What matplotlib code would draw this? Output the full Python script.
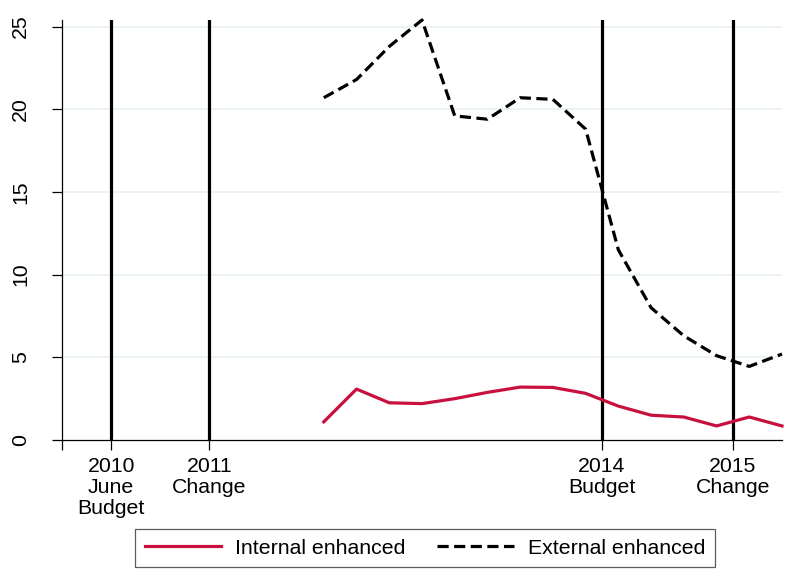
import matplotlib
matplotlib.use("Agg")
import matplotlib.pyplot as plt

plt.rcParams['font.family'] = ['Liberation Sans', 'DejaVu Sans']

# Quarterly observations (2011Q4 .. 2015Q2)
quarters = ["2011Q4", "2012Q1", "2012Q2", "2012Q3", "2012Q4",
            "2013Q1", "2013Q2", "2013Q3", "2013Q4",
            "2014Q1", "2014Q2", "2014Q3", "2014Q4",
            "2015Q1", "2015Q2"]
internal_enhanced = [1.1, 3.08, 2.25, 2.2, 2.5, 2.88, 3.2, 3.18, 2.82,
                     2.05, 1.5, 1.39, 0.85, 1.39, 0.85]
external_enhanced = [20.7, 21.8, 23.8, 25.4, 19.6, 19.4, 20.7, 20.6, 18.8,
                     11.5, 8.0, 6.3, 5.1, 4.45, 5.2]

# Policy events (decimal year of the event)
event_dates = [2010.25, 2011.0, 2014.0, 2015.0]
event_labels = ["2010\nJune\nBudget", "2011\nChange", "2014\nBudget", "2015\nChange"]

x_start = 2009.875
y_ticks = [0, 5, 10, 15, 20, 25]


def q_to_x(q):
    year, qq = q.split("Q")
    return int(year) + (int(qq) - 0.5) / 4.0


x = [q_to_x(q) for q in quarters]

fig = plt.figure(figsize=(7.9, 5.85), dpi=100)
ax = fig.add_axes([62 / 790, 1 - 440 / 585, (782 - 62) / 790, (440 - 20) / 585])

red = "#C8103E"
fs = 15.3

for yv in y_ticks[1:]:
    ax.axhline(yv, color="#EAF2F3", lw=1.3, zorder=0)

for ed in event_dates:
    ax.axvline(ed, color="black", lw=2.3, zorder=2)

ax.plot(x, internal_enhanced, color=red, lw=2.3, label="Internal enhanced",
        zorder=3, clip_on=False)
ax.plot(x, external_enhanced, color="black", lw=2.3, dashes=(3.5, 1.7),
        label="External enhanced", zorder=3, clip_on=False)

ax.set_xlim(x_start, x[-1])
ax.set_ylim(0, 25.4)

ax.set_xticks([x_start] + event_dates)
ax.set_xticklabels([""] + event_labels, fontsize=fs, linespacing=1.15)
ax.set_yticks(y_ticks)
ax.set_yticklabels([str(v) for v in y_ticks], fontsize=fs, rotation=90, va="center")

ax.tick_params(axis="x", length=7, width=0.9, pad=5)
ax.tick_params(axis="y", length=7, width=0.9, pad=16)

for s in ["top", "right"]:
    ax.spines[s].set_visible(False)
for s in ["left", "bottom"]:
    ax.spines[s].set_linewidth(0.9)

leg = fig.legend(loc="center", bbox_to_anchor=(425 / 790, 1 - 548 / 585),
                 ncol=2, fontsize=fs, frameon=True, fancybox=False,
                 handlelength=3.6, handletextpad=0.65, columnspacing=1.5,
                 borderpad=0.45, borderaxespad=0)
leg.get_frame().set_edgecolor("#333333")
leg.get_frame().set_linewidth(0.9)

fig.savefig("out.png", dpi=100)
